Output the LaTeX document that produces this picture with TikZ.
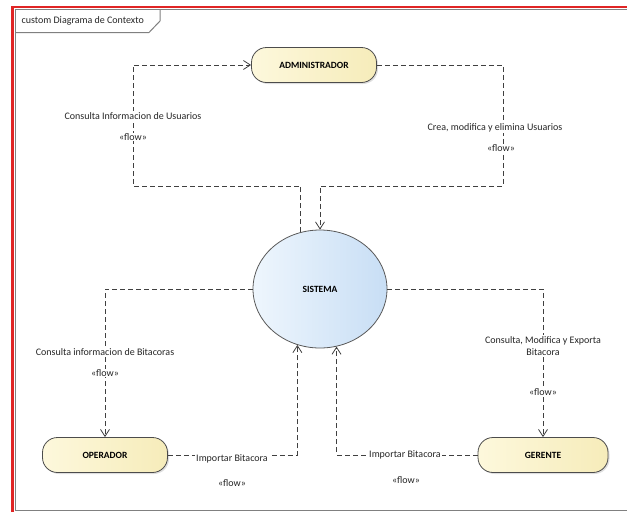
\documentclass[tikz,border=0pt]{standalone}
\usepackage{fontspec}
\setmainfont{Carlito}
\usetikzlibrary{arrows.meta,shapes.geometric,shadows}
\definecolor{amarillo}{HTML}{F6ECBA}
\definecolor{amarilloclaro}{HTML}{FDF8DC}
\definecolor{azul}{HTML}{C8DEF5}
\definecolor{azulclaro}{HTML}{EEF6FD}
\definecolor{rojo}{HTML}{E02525}

\begin{document}
\begin{tikzpicture}[x=1pt,y=-1pt]
  \tikzstyle{actor}=[draw=black!70,line width=0.8pt,rounded corners=15pt,minimum width=125pt,minimum height=35pt,
    left color=amarilloclaro,right color=amarillo,
    drop shadow={shadow xshift=1.5pt,shadow yshift=-1.5pt,opacity=0.25},
    font=\fontsize{9.5}{11}\selectfont\bfseries]
  \tikzstyle{flujo}=[draw=black!75,line width=0.8pt,dash pattern=on 5pt off 3pt,-{Straight Barb[length=7pt,width=9pt]}]
  \tikzstyle{etq}=[fill=white,inner sep=1pt,text=black!85,font=\fontsize{10}{12}\selectfont]
  \useasboundingbox (0,0) rectangle (627,512);
  % Marco
  \draw[rojo,line width=2.5pt] (12.5,512) -- (12.5,7) -- (627,7);
  \draw[black!50,line width=1pt] (627,9.5) -- (15.5,9.5) -- (15.5,510) -- (627,510);
  \draw[black!50,line width=1pt] (15.5,32.5) -- (149,32.5) -- (160,21) -- (160,9.5);
  \node[anchor=west,text=black!85,font=\fontsize{10}{12}\selectfont] (titulo) at (18,21) {custom Diagrama de Contexto};
  % Actores
  \node[actor] (adm) at (314,65)  {ADMINISTRADOR};
  \node[actor] (ope) at (105,455) {OPERADOR};
  \node[actor,minimum width=130pt] (ger) at (543,455) {GERENTE};
  \node[ellipse,draw=black!65,line width=0.8pt,minimum width=134pt,minimum height=118pt,inner sep=0pt,
    left color=azulclaro,right color=azul,font=\fontsize{9.5}{11}\selectfont\bfseries] (sis) at (320,289) {SISTEMA};
  % Esquinas
  \coordinate (c1) at (133,186);  % arriba-izquierda
  \coordinate (c2) at (503,186);  % arriba-derecha
  % Flujos
  \draw[flujo] (sis.109) |- (c1) |- (adm.west);
  \draw[flujo] (adm.east) -| (c2) -| (sis.north);
  \draw[flujo] (sis.west) -| (ope.north);
  \draw[flujo] (sis.east) -| (ger.north);
  \draw[flujo] (ope.east) -| (sis.248.6);
  \draw[flujo] (ger.west) -| (sis.286);
  % Etiquetas
  \node[etq] (e1) at (133,116) {Consulta Informacion de Usuarios};
  \node[etq] (f1) at (133,137) {«flow»};
  \node[etq] (e2) at (495,128) {Crea, modifica y elimina Usuarios};
  \node[etq] (f2) at (501,148) {«flow»};
  \node[etq] (e3) at (105,352) {Consulta informacion de Bitacoras};
  \node[etq] (f3) at (105,373) {«flow»};
  \node[etq,align=center] (e4) at (543,346) {Consulta, Modifica y Exporta\\Bitacora};
  \node[etq] (f4) at (543,392) {«flow»};
  \node[etq] (e5) at (232,459) {Importar Bitacora};
  \node[etq] (f5) at (232,483) {«flow»};
  \node[etq] (e6) at (405,455) {Importar Bitacora};
  \node[etq] (f6) at (406,480) {«flow»};
\end{tikzpicture}
\end{document}
